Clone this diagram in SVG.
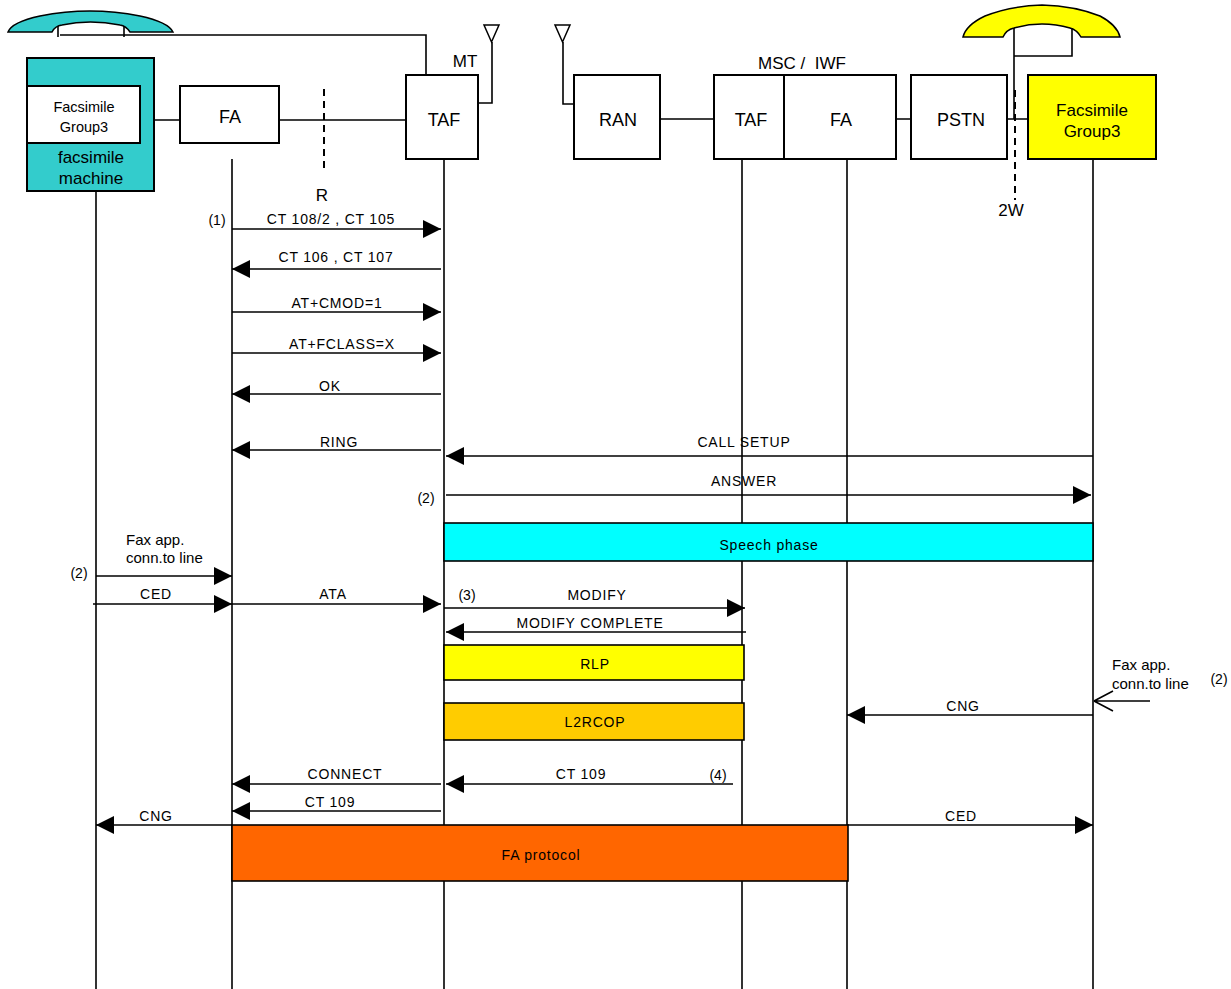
<svg xmlns="http://www.w3.org/2000/svg" width="1231" height="989" viewBox="0 0 1231 989">
<defs>
<marker id="ah" markerUnits="userSpaceOnUse" markerWidth="18" markerHeight="18" refX="18" refY="9" orient="auto">
<path d="M0,0 L18,9 L0,18 Z" fill="#000"/>
</marker>
</defs>
<style>
text{font-family:"Liberation Sans",Arial,sans-serif;fill:#000}
.box{stroke:#000;stroke-width:2;fill:#fff}
.ln{stroke:#000;stroke-width:1.6;fill:none}
.ll{stroke:#000;stroke-width:1.6;fill:none}
.msg{stroke:#000;stroke-width:1.6;fill:none;marker-end:url(#ah)}
.big{font-size:18px;text-anchor:middle}
.lbl{font-size:14px;text-anchor:middle;letter-spacing:0.8px}
.sm{font-size:14px;text-anchor:middle}
.note{font-size:15px}
.dash{stroke:#000;stroke-width:2;stroke-dasharray:7,5;fill:none}
</style>
<rect width="1231" height="989" fill="#fff"/>

<g id="handset-left">
<path d="M8,32 Q12,22 40,16 Q90,6 140,16 Q168,22 173,32 L130,32 Q126,26 120,25 Q90,19 62,25 Q55,26 52,32 Z" fill="#33CCCC" stroke="#000" stroke-width="1.5"/>
<path class="ln" d="M58,26 V37 M124,26 V37 M60,35 H426 V75"/>
</g>

<g id="fax-machine">
<rect class="box" x="27" y="58" width="127" height="133" style="fill:#33CCCC"/>
<rect class="box" x="27" y="86" width="113" height="57"/>
<text x="84" y="112" style="font-size:14.5px;text-anchor:middle">Facsimile</text>
<text x="84" y="132" style="font-size:14.5px;text-anchor:middle">Group3</text>
<text x="91" y="163" class="big" style="font-size:17px">facsimile</text>
<text x="91" y="184" class="big" style="font-size:17px">machine</text>
</g>

<g id="fa-left">
<rect class="box" x="180" y="86" width="99" height="57"/>
<text x="230" y="123" class="big">FA</text>
</g>

<g id="taf-mt">
<rect class="box" x="406" y="75" width="72" height="84"/>
<text x="444" y="126" class="big">TAF</text>
<text x="465" y="67" class="big" style="font-size:17px">MT</text>
<path class="ln" d="M478,103 H492 V42"/>
<path d="M484,25 H499 L491.5,42 Z" fill="#fff" stroke="#000" stroke-width="1.5"/>
</g>

<g id="ran">
<path class="ln" d="M574,104 H563 V42"/>
<path d="M555,25 H570 L562.5,42 Z" fill="#fff" stroke="#000" stroke-width="1.5"/>
<rect class="box" x="574" y="75" width="86" height="84"/>
<text x="618" y="126" class="big">RAN</text>
</g>

<g id="msc-iwf">
<rect class="box" x="714" y="75" width="70" height="84"/>
<rect class="box" x="784" y="75" width="112" height="84"/>
<text x="751" y="126" class="big">TAF</text>
<text x="841" y="126" class="big">FA</text>
<text x="802" y="69" class="big" style="font-size:17px" xml:space="preserve">MSC /  IWF</text>
</g>

<g id="pstn">
<rect class="box" x="911" y="75" width="96" height="84"/>
<text x="961" y="126" class="big">PSTN</text>
</g>

<g id="fax-group3">
<rect class="box" x="1028" y="75" width="128" height="84" style="fill:#FFFF00"/>
<text x="1092" y="116" class="big" style="font-size:17px">Facsimile</text>
<text x="1092" y="137" class="big" style="font-size:17px">Group3</text>
</g>

<g id="handset-right">
<path d="M963,37 Q966,25 985,16 Q1010,6 1042,5 Q1075,6 1100,16 Q1117,25 1120,37 L1081,37 Q1077,30 1070,28 Q1042,20 1014,28 Q1006,30 1003,37 Z" fill="#FFFF00" stroke="#000" stroke-width="1.5"/>
<path class="ln" d="M1014,28 V119 M1072,28 V56 H1014"/>
<path class="dash" d="M1015,90 V200"/>
<text x="1011" y="216" class="big" style="font-size:17px">2W</text>
</g>

<g id="r-point">
<path class="dash" d="M324,89 V170"/>
<text x="322" y="201" class="big" style="font-size:17px">R</text>
</g>

<g id="connectors">
<path class="ln" d="M154,120 H180 M279,120 H406 M660,119 H714 M896,119 H911 M1007,119 H1028"/>
<path class="ll" d="M96,191 V989 M232,159 V989 M444,159 V989 M742,159 V989 M847,159 V989 M1093,159 V989"/>

<path class="msg" d="M232,229 H441"/>
<path class="msg" d="M441,269 H232"/>
<path class="msg" d="M232,312 H441"/>
<path class="msg" d="M232,353 H441"/>
<path class="msg" d="M441,394 H232"/>
<path class="msg" d="M441,450 H232"/>
<path class="msg" d="M1093,456 H446"/>
<path class="msg" d="M446,495 H1091"/>
<path class="msg" d="M96,576 H232"/>
<path class="msg" d="M93,604 H232"/>
<path class="msg" d="M232,604 H441"/>
<path class="msg" d="M444,608 H745"/>
<path class="msg" d="M746,632 H446"/>
<path class="msg" d="M1093,715 H847"/>
<path class="ln" d="M1150,701 H1094 L1113,691 M1094,701 L1113,711"/>
<path class="msg" d="M441,784 H232"/>
<path class="msg" d="M733,784 H446"/>
<path class="msg" d="M441,811 H232"/>
<path class="msg" d="M232,825 H96"/>
<path class="msg" d="M847,825 H1093"/>
</g>

<g id="speech-phase">
<rect x="444" y="523" width="649" height="38" fill="#00FFFF" stroke="#000" stroke-width="1.6"/>
<text x="769" y="550" class="lbl">Speech phase</text>
</g>
<g id="rlp">
<rect x="444" y="645" width="300" height="35" fill="#FFFF00" stroke="#000" stroke-width="1.6"/>
<text x="595" y="669" class="lbl">RLP</text>
</g>
<g id="l2rcop">
<rect x="444" y="703" width="300" height="37" fill="#FFCC00" stroke="#000" stroke-width="1.6"/>
<text x="595" y="727" class="lbl">L2RCOP</text>
</g>
<g id="fa-protocol">
<rect x="232" y="825" width="616" height="56" fill="#FF6600" stroke="#000" stroke-width="1.6"/>
<text x="541" y="860" class="lbl">FA protocol</text>
</g>

<g id="labels">
<text x="331" y="224" class="lbl">CT 108/2 , CT 105</text>
<text x="217" y="225" class="sm">(1)</text>
<text x="336" y="262" class="lbl">CT 106 , CT 107</text>
<text x="337" y="308" class="lbl">AT+CMOD=1</text>
<text x="342" y="349" class="lbl">AT+FCLASS=X</text>
<text x="330" y="391" class="lbl">OK</text>
<text x="339" y="447" class="lbl">RING</text>
<text x="744" y="447" class="lbl">CALL SETUP</text>
<text x="744" y="486" class="lbl">ANSWER</text>
<text x="426" y="503" class="sm">(2)</text>
<text x="126" y="545" class="note">Fax app.</text>
<text x="126" y="563" class="note">conn.to line</text>
<text x="79" y="578" class="sm">(2)</text>
<text x="156" y="599" class="lbl">CED</text>
<text x="333" y="599" class="lbl">ATA</text>
<text x="467" y="600" class="sm">(3)</text>
<text x="597" y="600" class="lbl">MODIFY</text>
<text x="590" y="628" class="lbl">MODIFY COMPLETE</text>
<text x="1112" y="670" class="note">Fax app.</text>
<text x="1112" y="689" class="note">conn.to line</text>
<text x="1219" y="684" class="sm">(2)</text>
<text x="963" y="711" class="lbl">CNG</text>
<text x="345" y="779" class="lbl">CONNECT</text>
<text x="581" y="779" class="lbl">CT 109</text>
<text x="718" y="780" class="sm">(4)</text>
<text x="330" y="807" class="lbl">CT 109</text>
<text x="156" y="821" class="lbl">CNG</text>
<text x="961" y="821" class="lbl">CED</text>
</g>
</svg>
